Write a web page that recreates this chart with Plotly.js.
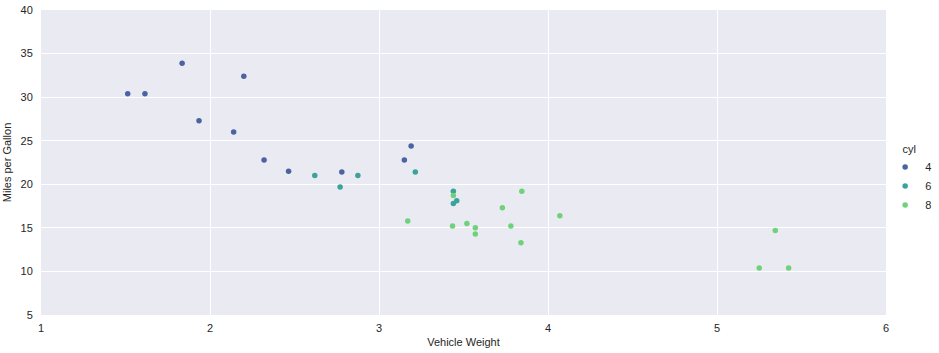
<!DOCTYPE html>
<html><head><meta charset="utf-8">
<script src="https://cdn.plot.ly/plotly-3.0.1.min.js"></script>
<style>html,body{margin:0;padding:0;background:#fff}#chart{width:939px;height:353px}</style>
</head><body><div id="chart"></div>
<script>
const wt4 = [2.320, 3.190, 3.150, 2.200, 1.615, 1.835, 2.465, 1.935, 2.140, 1.513, 2.780];
const mpg4 = [22.8, 24.4, 22.8, 32.4, 30.4, 33.9, 21.5, 27.3, 26.0, 30.4, 21.4];
const wt6 = [2.620, 2.875, 3.215, 3.460, 3.440, 3.440, 2.770];
const mpg6 = [21.0, 21.0, 21.4, 18.1, 19.2, 17.8, 19.7];
const wt8 = [3.440, 3.570, 4.070, 3.730, 3.780, 5.250, 5.424, 5.345, 3.520, 3.435, 3.840, 3.845, 3.170, 3.570];
const mpg8 = [18.7, 14.3, 16.4, 17.3, 15.2, 10.4, 10.4, 14.7, 15.5, 15.2, 13.3, 19.2, 15.8, 15.0];
const groups = ["4", "6", "8"];
const colors = ["#4b63a0", "#3aa39c", "#6fd27a"];
const xs = [wt4, wt6, wt8], ys = [mpg4, mpg6, mpg8];
const traces = groups.map((g, i) => ({
  type: "scatter", mode: "markers", name: g, x: xs[i], y: ys[i],
  marker: {color: colors[i], size: 5.5, line: {width: 0}}
}));
const font = {family: "Liberation Sans, Arial, sans-serif", size: 11, color: "#262626"};
Plotly.newPlot("chart", traces, {
  width: 939, height: 353,
  margin: {l: 41, r: 53, t: 10, b: 38, autoexpand: false},
  paper_bgcolor: "#fff", plot_bgcolor: "#EAEAF2",
  font: font,
  xaxis: {range: [1, 6], dtick: 1, gridcolor: "#fff", gridwidth: 1, zeroline: false, showline: false,
    ticks: "outside", ticklen: 3, tickcolor: "rgba(0,0,0,0)", tickfont: font,
    title: {text: "Vehicle Weight", font: font, standoff: 5}},
  yaxis: {range: [5, 40], dtick: 5, gridcolor: "#fff", gridwidth: 1, zeroline: false, showline: false,
    ticks: "outside", ticklen: 5, tickcolor: "rgba(0,0,0,0)", tickfont: font,
    title: {text: "Miles per Gallon", font: font, standoff: 6}},
  showlegend: true,
  legend: {x: 0.999, xanchor: "left", y: 0.445, yanchor: "middle", bgcolor: "rgba(0,0,0,0)",
    font: font, title: {text: "\u00a0\u00a0\u00a0\u00a0\u00a0cyl", font: font, side: "top"}, itemwidth: 30, tracegroupgap: 0}
}, {displayModeBar: false});
</script></body></html>
